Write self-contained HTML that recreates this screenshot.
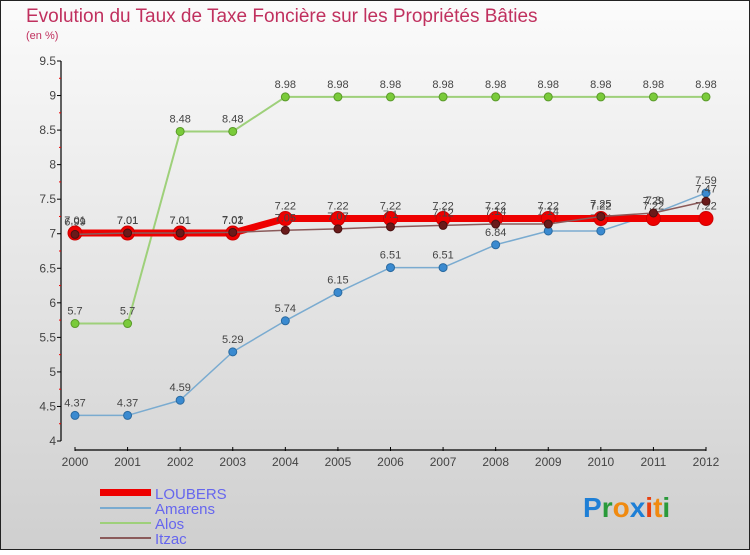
<!DOCTYPE html>
<html><head><meta charset="utf-8"><style>
body{margin:0;width:750px;height:550px;overflow:hidden;font-family:"Liberation Sans",sans-serif}
svg text{font-family:"Liberation Sans",sans-serif}
</style></head><body>
<svg width="750" height="550" xmlns="http://www.w3.org/2000/svg">
<defs><linearGradient id="bg" x1="0" y1="0" x2="0" y2="1"><stop offset="0" stop-color="#fbfbfb"/><stop offset="1" stop-color="#cfcfcf"/></linearGradient></defs>
<rect x="0.5" y="0.5" width="749" height="549" fill="url(#bg)" stroke="#222"/>
<text x="26" y="22" font-size="19" fill="#c0305e">Evolution du Taux de Taxe Foncière sur les Propriétés Bâties</text>
<text x="26" y="39" font-size="11" fill="#c0305e">(en %)</text>
<g id="axes"></g>
<g id="series"></g>
<g id="legend">
<rect x="100" y="489" width="51" height="7" fill="#e00"/>
<text x="155" y="499" font-size="15" fill="#6666ee">LOUBERS</text>
<line x1="100" y1="508" x2="151" y2="508" stroke="#7aabd0" stroke-width="2"/>
<text x="155" y="514" font-size="15" fill="#6666ee">Amarens</text>
<line x1="100" y1="523" x2="151" y2="523" stroke="#9ed07a" stroke-width="2"/>
<text x="155" y="529" font-size="15" fill="#6666ee">Alos</text>
<line x1="100" y1="538" x2="151" y2="538" stroke="#8a5a5a" stroke-width="2"/>
<text x="155" y="544" font-size="15" fill="#6666ee">Itzac</text>
</g>
<g font-size="28" font-weight="bold">
<text x="583" y="517"><tspan fill="#1e7fd6">P</tspan><tspan fill="#2a9a3a">r</tspan><tspan fill="#f08a10">o</tspan><tspan fill="#1e7fd6">x</tspan><tspan fill="#e84010">i</tspan><tspan fill="#f08a10">t</tspan><tspan fill="#2a9a3a">i</tspan></text>
</g>
</svg>
<script>
const years=["2000","2001","2002","2003","2004","2005","2006","2007","2008","2009","2010","2011","2012"];
const yTicks=[4,4.5,5,5.5,6,6.5,7,7.5,8,8.5,9,9.5];
const loubers=[7.01,7.01,7.01,7.01,7.22,7.22,7.22,7.22,7.22,7.22,7.22,7.22,7.22];
const amarens=[4.37,4.37,4.59,5.29,5.74,6.15,6.51,6.51,6.84,7.04,7.04,7.29,7.59];
const alos=[5.7,5.7,8.48,8.48,8.98,8.98,8.98,8.98,8.98,8.98,8.98,8.98,8.98];
const itzac=[6.99,7.01,7.01,7.02,7.05,7.07,7.1,7.12,7.14,7.14,7.25,7.3,7.47];
const NS="http://www.w3.org/2000/svg";
const X=i=>75+i*(706-75)/(years.length-1);
const Y=v=>441-(v-4)*(441-61)/5.5;
function mk(t,a,p){const e=document.createElementNS(NS,t);for(const k in a)e.setAttribute(k,a[k]);p.appendChild(e);return e;}
const ax=document.getElementById('axes');
let l=mk('line',{x1:61,y1:Y(9.5),x2:61,y2:Y(4),stroke:'#000','stroke-width':1.2},ax);


yTicks.forEach((v,k)=>{
 let t=mk('line',{x1:57,x2:61,y1:Y(v),y2:Y(v),stroke:'#000'},ax);
 
 
 if(k<yTicks.length-1){
  let m=mk('line',{x1:59,x2:61,y1:Y(v+0.25),y2:Y(v+0.25),stroke:'#e00'},ax);
  
  
 }
 let tx=mk('text',{x:56,y:Y(v)+4,'text-anchor':'end','font-size':12,fill:'#444'},ax);
 tx.textContent=String(v);
 
 
});
l=mk('line',{x1:X(0),y1:450,x2:X(12),y2:450,stroke:'#000','stroke-width':1.2},ax);


years.forEach((y,i)=>{
 let t=mk('line',{x1:X(i),x2:X(i),y1:447,y2:451,stroke:'#000'},ax);
 
 
 let tx=mk('text',{x:X(i),y:466,'text-anchor':'middle','font-size':12,fill:'#444'},ax);
 tx.textContent=y;
 
 
});
const sg=document.getElementById('series');
function series(name,data,color,w,r,dot,dotStroke){
 const g=mk('g',{},sg);
 
 
 const p=mk('polyline',{points:data.map((v,i)=>X(i)+','+Y(v)).join(' '),fill:'none',stroke:color,'stroke-width':w,'stroke-linejoin':'round'},g);
 
 
 data.forEach((v,i)=>{
  const c=mk('circle',{cx:X(i),cy:Y(v),r:r,fill:dot,stroke:dotStroke,'stroke-width':1},g);
  
  
  const t=mk('text',{x:X(i),y:Y(v)-9,'text-anchor':'middle','font-size':11,fill:'#444'},g);
  t.textContent=String(v);
  
  
 });
}
series('alos',alos,'#9ed07a',2,4,'#7acb3a','#5a9a2a');
series('amarens',amarens,'#7aabd0',1.5,4,'#3a8ad0','#2a6aa0');
series('loubers',loubers,'#ee0000',7,7,'#ee0000','#cc0000');
series('itzac',itzac,'#8a5a5a',1.5,4,'#6a1a1a','#4a1010');
</script>
</body></html>
